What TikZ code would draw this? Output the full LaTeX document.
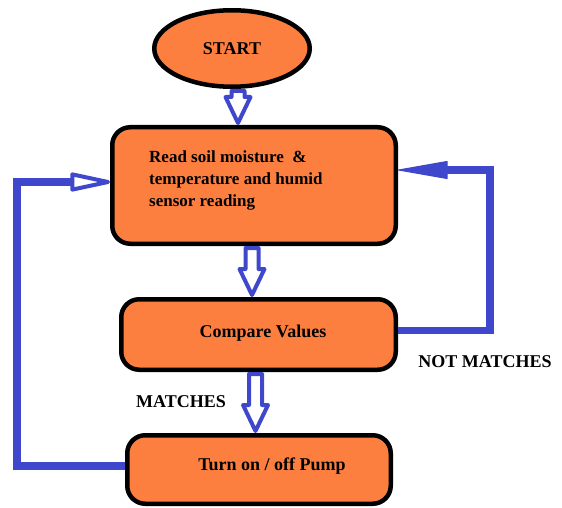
\documentclass[tikz,border=0pt]{standalone}
\usepackage{fontspec}
\setmainfont{Liberation Serif}
\usetikzlibrary{shapes.geometric,arrows.meta,calc}
\definecolor{boxorange}{RGB}{252,127,63}
\definecolor{flowblue}{RGB}{63,72,204}

% hollow block arrow pointing down: #1 source node, #2 target node, #3 x position
\newcommand\hollowdown[3]{%
  \draw[hollowarr] let \p1=(#1.south), \p2=(#2.north) in
    (#3pt-6.5pt,\y1-2pt) -- (#3pt-6.5pt,\y2+28pt) -- (#3pt-12.5pt,\y2+28pt)
    -- (#3pt,\y2+2pt) -- (#3pt+12.5pt,\y2+28pt) -- (#3pt+6.5pt,\y2+28pt)
    -- (#3pt+6.5pt,\y1-2pt) -- cycle;}

\begin{document}
\begin{tikzpicture}[x=1pt,y=-1pt,
  box/.style={draw=black, line width=4.5pt, fill=boxorange, rounded corners=18pt, inner sep=0pt},
  lbl/.style={font=\bfseries\fontsize{18}{22}\selectfont, inner sep=0pt},
  hollowarr/.style={draw=flowblue, line width=4pt, fill=white, line join=round},
  loopline/.style={draw=flowblue, line width=7.5pt}]

\useasboundingbox (0,0) rectangle (562,508);

% process boxes
\node[draw=black, line width=4.5pt, fill=boxorange, ellipse, inner sep=0pt,
      minimum width=155.5pt, minimum height=76.5pt,
      font=\bfseries\fontsize{18}{22}\selectfont] (start) at (232,48.5) {START};
\node[box, minimum width=283.5pt, minimum height=116.5pt] (read) at (254,185.5) {};
\node[box, minimum width=274.5pt, minimum height=70.5pt] (compare) at (258.5,334.5) {};
\node[box, minimum width=263.5pt, minimum height=68.5pt] (pump) at (259,469.5) {};

% box texts
\node[lbl, anchor=west, align=left, font=\bfseries\fontsize{17}{22}\selectfont]
  (readtxt) at (149,180) {Read soil moisture \ \&\\temperature and humid\\sensor reading};
\node[lbl, anchor=base] (cmptxt) at (263,337) {Compare Values};
\node[lbl, anchor=base] (pumptxt) at (272,470) {Turn on / off Pump};

% branch labels
\node[lbl, anchor=base] (matchtxt) at (181,407) {MATCHES};
\node[lbl, anchor=base] (nomatchtxt) at (485,367) {NOT MATCHES};

% main flow
\hollowdown{start}{read}{238}
\hollowdown{read}{compare}{252}
\hollowdown{compare}{pump}{255.5}

% loop back after the pump
\coordinate (lbend) at (17,182);
\draw[loopline, -{Triangle[open, round, length=48pt, width=19pt, line width=4pt]}]
  ([yshift=3.5pt]pump.west) -| (lbend) -- (lbend -| read.west);

% loop back when values do not match
\coordinate (rbend) at (490,170);
\draw[loopline, -{Triangle[round, length=52pt, width=18pt, line width=1pt]}]
  ([yshift=4pt]compare.east) -| (rbend) -- (rbend -| read.east);

\end{tikzpicture}
\end{document}
